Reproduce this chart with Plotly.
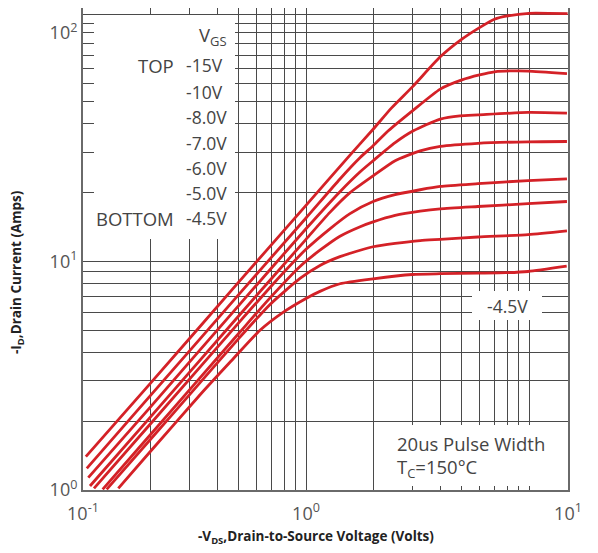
import plotly.graph_objects as go

# ---------------- data ----------------
vgs_names = ["-15V", "-10V", "-8.0V", "-7.0V", "-6.0V", "-5.0V", "-4.75V", "-4.5V"]

vds_c1 = [0.103, 0.2, 0.5, 1.0, 1.575, 2.0, 2.42, 3.0, 4.0, 5.0, 6.0, 7.0, 8.0, 10.0, 14.9]
id_c1 = [1.40, 2.92, 8.14, 17.6, 29.2, 37.9, 47.0, 58.1, 78.6, 93.9, 105.5, 114.8, 118.7, 121.9, 121.4]

vds_c2 = [0.104, 0.2, 0.5, 1.0, 1.42, 1.75, 2.0, 2.34, 3.0, 4.0, 5.0, 6.0, 7.0, 8.9, 9.9, 14.8]
id_c2 = [1.244, 2.58, 7.18, 15.5, 22.97, 28.5, 32.1, 37.3, 45.6, 56.8, 62.3, 65.5, 67.6, 68.3, 68.1, 66.4]

vds_c3 = [0.1056, 0.2, 0.5, 1.0, 1.42, 1.75, 2.0, 2.51, 3.03, 4.0, 4.9, 5.9, 9.9, 14.8]
id_c3 = [1.132, 2.30, 6.43, 13.9, 20.2, 24.7, 27.6, 33.1, 37.3, 42.0, 43.4, 43.8, 44.9, 44.6]

vds_c4 = [0.1075, 0.2, 0.5, 1.0, 1.28, 1.575, 2.0, 2.51, 3.25, 4.0, 5.9, 9.9, 14.8]
id_c4 = [1.041, 2.08, 5.79, 12.5, 16.4, 20.0, 23.7, 27.6, 30.5, 31.9, 32.9, 33.4, 33.5]

vds_c5 = [0.112, 0.2, 0.5, 0.764, 1.0, 1.28, 1.575, 2.0, 2.51, 3.25, 4.0, 5.9, 9.9, 14.8]
id_c5 = [1.017, 1.94, 5.40, 8.60, 11.3, 13.9, 16.2, 18.3, 19.6, 20.6, 21.3, 21.9, 22.6, 23.0]

vds_c6 = [0.1225, 0.2, 0.5, 0.69, 0.94, 1.155, 1.42, 1.75, 2.0, 2.51, 3.25, 4.0, 5.9, 9.9, 14.8]
id_c6 = [1.007, 1.74, 4.85, 6.93, 9.51, 11.2, 12.9, 14.2, 14.9, 15.9, 16.6, 17.0, 17.4, 17.9, 18.3]

vds_c7 = [0.1277, 0.2, 0.335, 0.5, 0.69, 0.94, 1.155, 1.42, 1.75, 2.0, 2.51, 3.25, 4.0, 5.9, 9.9, 14.8]
id_c7 = [1.007, 1.659, 2.95, 4.61, 6.49, 8.43, 9.61, 10.5, 11.2, 11.6, 12.0, 12.35, 12.5, 12.8, 13.1, 13.6]

vds_c8 = [0.144, 0.2, 0.335, 0.456, 0.622, 0.789, 1.0, 1.155, 1.42, 2.0, 3.0, 4.0, 5.91, 7.89, 9.9, 14.76]
id_c8 = [1.017, 1.47, 2.61, 3.62, 5.00, 5.99, 6.89, 7.40, 7.99, 8.40, 8.77, 8.84, 8.89, 8.93, 9.04, 9.54]

curves_v = [vds_c1, vds_c2, vds_c3, vds_c4, vds_c5, vds_c6, vds_c7, vds_c8]
curves_i = [id_c1, id_c2, id_c3, id_c4, id_c5, id_c6, id_c7, id_c8]

legend_values = ["-15V", "-10V", "-8.0V", "-7.0V", "-6.0V", "-5.0V", "-4.5V"]

x_major = [0.1, 1]
x_minor = [0.2, 0.3, 0.4, 0.5, 0.6, 0.7, 0.8, 0.9, 2, 3, 4, 5, 6, 7, 8, 9, 10]
y_major = [1, 10, 100]
y_minor = [2, 3, 4, 5, 6, 7, 8, 9, 20, 30, 40, 50, 60, 70, 80, 90, 110, 120]

# ---------------- figure ----------------
# the page body adds an 8px offset; the figure is sized/margined to compensate
OFF = 8
W, H = 598 - OFF, 553 - OFF
PL, PT, PW, PH = 83, 8, 485, 482          # plot area in page pixels
L, T = PL - OFF, PT - OFF
R, B = W - L - PW, H - T - PH
X_LOG_RANGE = [-1, 1.1749]
Y_LOG_RANGE = [0, 2.1092]
x_edge = 10 ** X_LOG_RANGE[1]


def px(xp):
    return (xp - PL) / PW


def py(yp):
    return (PT + PH - yp) / PH


fig = go.Figure()
for name, v, i in zip(vgs_names, curves_v, curves_i):
    fig.add_trace(go.Scatter(
        x=v, y=i, mode="lines", name=name,
        line=dict(color="#d42127", width=2.8, shape="spline", smoothing=0.6),
        hoverinfo="skip", showlegend=False,
    ))

GRID = "#4a4a4a"
TICKFONT = dict(family="Open Sans", size=18, color="#555555")
TITLEFONT = dict(family="Open Sans", size=13.5, color="#222222", weight="bold")

fig.update_xaxes(
    type="log", range=X_LOG_RANGE, tickmode="array",
    tickvals=x_major + [x_edge],
    ticktext=["10<sup>-1</sup>", "10<sup>0</sup>", "10<sup>1</sup>"],
    showgrid=True, gridcolor=GRID, gridwidth=1.4, ticks="", tickfont=TICKFONT,
    ticklabelstandoff=6,
    minor=dict(tickmode="array", tickvals=x_minor, showgrid=True, gridcolor=GRID, gridwidth=1.4, ticks=""),
    showline=True, mirror=True, linecolor="#6a6a6a", linewidth=2, zeroline=False,
)
fig.update_yaxes(
    type="log", range=Y_LOG_RANGE, tickmode="array", tickvals=y_major,
    ticktext=["10<sup>0</sup>", "10<sup>1</sup>", "10<sup>2</sup>"],
    showgrid=True, gridcolor=GRID, gridwidth=1.4, ticks="", tickfont=TICKFONT,
    minor=dict(tickmode="array", tickvals=y_minor, showgrid=True, gridcolor=GRID, gridwidth=1.4, ticks=""),
    showline=True, mirror=True, linecolor="#6a6a6a", linewidth=2, zeroline=False,
)

ann = []
# white boxes that hide grid lines behind the text (no curve passes through them)
boxes = [(94, 15, 235, 239), (472, 291, 542, 320), (376, 425, 566, 486)]
for x0, y0, x1, y1 in boxes:
    ann.append(dict(text=" ", x=px((x0 + x1) / 2), y=py((y0 + y1) / 2),
                    xref="paper", yref="paper", xanchor="center", yanchor="middle",
                    width=x1 - x0, height=y1 - y0, bgcolor="white", borderpad=0,
                    borderwidth=0, showarrow=False, font=dict(size=1)))

VAL = dict(family="Open Sans", size=17.5, color="#444444")
WORD = dict(family="Open Sans", size=18.5, color="#444444")
txt = []
txt.append(dict(text="V<sub>GS</sub>", x=px(229), y=py(36), xanchor="right", yanchor="middle", font=WORD))
txt.append(dict(text="TOP", x=px(176), y=py(65), xanchor="right", yanchor="middle", font=WORD))
txt.append(dict(text="BOTTOM", x=px(176), y=py(218), xanchor="right", yanchor="middle", font=WORD))
ys = [65, 91.5, 117, 142.5, 168, 193, 218]
for t, yy in zip(legend_values, ys):
    txt.append(dict(text=t, x=px(184), y=py(yy), xanchor="left", yanchor="middle", font=VAL))
txt.append(dict(text="-4.5V", x=px(507), y=py(306), xanchor="center", yanchor="middle", font=VAL))
txt.append(dict(text="20us Pulse Width", x=px(395), y=py(443), xanchor="left", yanchor="middle", font=WORD))
txt.append(dict(text="T<sub>C</sub>=150°C", x=px(395), y=py(468), xanchor="left", yanchor="middle", font=WORD))
for a in txt:
    a.update(xref="paper", yref="paper", showarrow=False)
ann += txt

# axis titles
ann.append(dict(text="-V<sub>DS</sub>,Drain-to-Source Voltage (Volts)", x=px(316), y=py(537),
                xref="paper", yref="paper", xanchor="center", yanchor="middle",
                showarrow=False, font=TITLEFONT))
ann.append(dict(text="-I<sub>D</sub>,Drain Current (Amps)", x=px(17), y=py(272),
                xref="paper", yref="paper", xanchor="center", yanchor="middle",
                textangle=-90, showarrow=False, font=TITLEFONT))

fig.update_layout(
    width=W, height=H, margin=dict(l=L, r=R, t=T, b=B, autoexpand=False),
    paper_bgcolor="white", plot_bgcolor="white",
    annotations=ann, showlegend=False,
)

fig.write_html("out.html")
